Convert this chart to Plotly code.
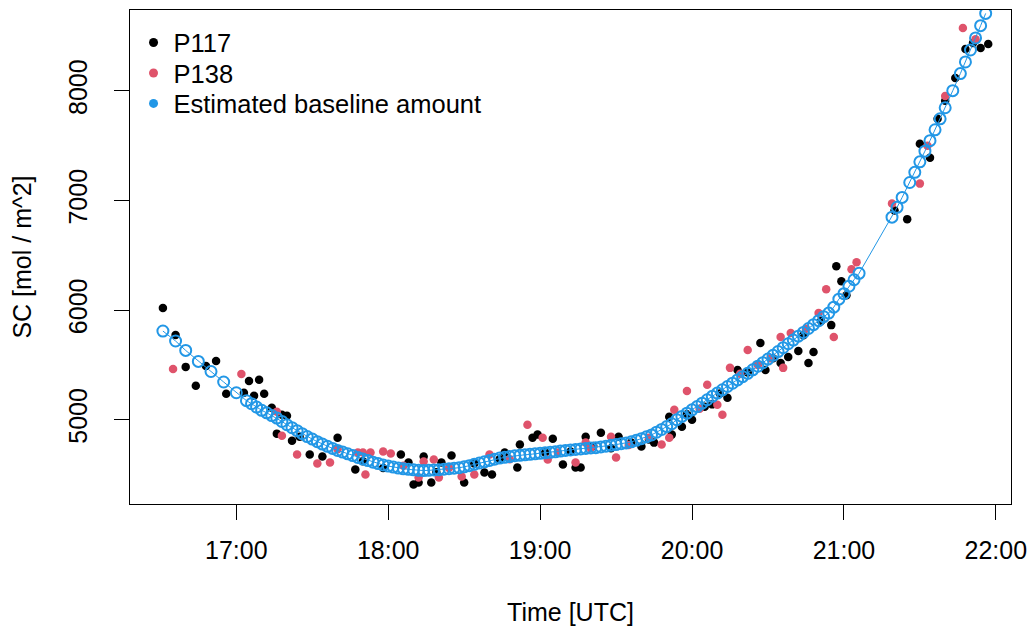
import plotly.graph_objects as go

# --- observations: P117 (time UTC, SC in mol/m^2) ---
p117_time = [
    "16:31", "16:36", "16:40", "16:44", "16:48", "16:52", "16:56", "17:03", "17:05", "17:07",
    "17:09", "17:11", "17:14", "17:16", "17:18", "17:20", "17:22", "17:25", "17:29", "17:34",
    "17:40", "17:47", "17:50", "17:58", "18:05", "18:08", "18:10", "18:12", "18:14", "18:17",
    "18:19", "18:21", "18:25", "18:30", "18:34", "18:38", "18:41", "18:44", "18:46", "18:51",
    "18:52", "18:57", "18:59", "19:02", "19:05", "19:09", "19:12", "19:14", "19:16", "19:18",
    "19:21", "19:24", "19:28", "19:31", "19:36", "19:40", "19:43", "19:45", "19:51", "19:52",
    "19:56", "19:58", "20:00", "20:05", "20:08", "20:11", "20:14", "20:18", "20:22", "20:27",
    "20:29", "20:32", "20:35", "20:38", "20:42", "20:44", "20:46", "20:48", "20:51", "20:55",
    "20:57", "20:59", "21:01", "21:20", "21:25", "21:30", "21:34", "21:37", "21:40", "21:44",
    "21:48", "21:51", "21:54", "21:57",
]
p117_sc = [
    6020, 5773, 5482, 5309, 5491, 5536, 5236, 5245, 5354, 5218,
    5364, 5236, 5109, 4873, 5045, 5036, 4809, 4845, 4682, 4664,
    4836, 4545, 4620, 4560, 4682, 4609, 4409, 4427, 4664, 4427,
    4520, 4609, 4673, 4427, 4600, 4518, 4500, 4640, 4700, 4563,
    4773, 4836, 4864, 4700, 4827, 4591, 4710, 4563, 4563, 4845,
    4760, 4882, 4740, 4845, 4791, 4755, 4820, 4791, 5027, 4864,
    4936, 5050, 5000, 5118, 5140, 5240, 5200, 5454, 5430, 5700,
    5454, 5560, 5518, 5573, 5627, 5770, 5518, 5618, 5900, 5863,
    6400, 6264, 6136, 6909, 6830, 7518, 7391, 7745, 7909, 8118,
    8382, 8436, 8391, 8427,
]

# --- observations: P138 ---
p138_time = [
    "16:35", "17:02", "17:16", "17:18", "17:24", "17:32", "17:37", "17:40", "17:48", "17:50",
    "17:51", "17:53", "17:58", "18:01", "18:06", "18:12", "18:14", "18:18", "18:20", "18:24",
    "18:29", "18:34", "18:40", "18:48", "18:55", "19:01", "19:03", "19:07", "19:14", "19:18",
    "19:20", "19:28", "19:30", "19:35", "19:43", "19:48", "19:51", "19:53", "19:58", "20:03",
    "20:06", "20:10", "20:12", "20:15", "20:19", "20:22", "20:26", "20:31", "20:35", "20:36",
    "20:39", "20:45", "20:50", "20:53", "20:56", "21:03", "21:05", "21:19", "21:30", "21:33",
    "21:40", "21:47", "21:52",
]
p138_sc = [
    5463, 5418, 5073, 4854, 4682, 4600, 4609, 4730, 4700, 4700,
    4500, 4700, 4709, 4691, 4580, 4473, 4618, 4636, 4473, 4560,
    4482, 4500, 4682, 4640, 4954, 4836, 4636, 4700, 4609, 4791,
    4740, 4845, 4655, 4770, 4836, 4773, 4836, 5091, 5263, 5100,
    5318, 5136, 5045, 5473, 5420, 5636, 5500, 5560, 5754, 5473,
    5791, 5830, 5973, 6191, 5754, 6373, 6436, 6973, 7154, 7500,
    7954, 8573, 8470,
]

# --- estimated baseline amount ---
base_time = [
    "16:31", "16:36", "16:40", "16:45", "16:50", "16:55", "17:00", "17:04",
    "17:06", "17:08", "17:10", "17:12", "17:14", "17:16", "17:18", "17:20", "17:22", "17:24",
    "17:26", "17:28", "17:30", "17:32", "17:34", "17:36", "17:38", "17:40", "17:42", "17:44",
    "17:46", "17:48", "17:50", "17:52", "17:54", "17:56", "17:58", "18:00", "18:02", "18:04",
    "18:06", "18:08", "18:10", "18:12", "18:14", "18:16", "18:18", "18:20", "18:22", "18:24",
    "18:26", "18:28", "18:30", "18:32", "18:34", "18:36", "18:38", "18:40", "18:42", "18:44",
    "18:46", "18:48", "18:50", "18:52", "18:54", "18:56", "18:58", "19:00", "19:02", "19:04",
    "19:06", "19:08", "19:10", "19:12", "19:14", "19:16", "19:18", "19:20", "19:22", "19:24",
    "19:26", "19:28", "19:30", "19:32", "19:34", "19:36", "19:38", "19:40", "19:42", "19:44",
    "19:46", "19:48", "19:50", "19:52", "19:54", "19:56", "19:58", "20:00", "20:02", "20:04",
    "20:06", "20:08", "20:10", "20:12", "20:14", "20:16", "20:18", "20:20", "20:22", "20:24",
    "20:26", "20:28", "20:30", "20:32", "20:34", "20:36", "20:38", "20:40", "20:42", "20:44",
    "20:46", "20:48", "20:50", "20:52", "20:54", "20:56", "20:58", "21:00", "21:02", "21:04",
    "21:06",
    "21:19", "21:21", "21:23", "21:26", "21:28", "21:30", "21:32", "21:34", "21:36", "21:38",
    "21:40", "21:43", "21:46", "21:48", "21:50", "21:52", "21:54", "21:56",
]
base_sc = [
    5809, 5718, 5632, 5532, 5440, 5344, 5246, 5174,
    5146, 5115, 5086, 5063, 5038, 5015, 4984, 4954, 4927, 4900,
    4873, 4846, 4823, 4800, 4778, 4757, 4738, 4720, 4705, 4689,
    4673, 4656, 4641, 4627, 4613, 4600, 4587, 4577, 4568, 4559,
    4552, 4547, 4543, 4538, 4536, 4538, 4541, 4544, 4548, 4553,
    4557, 4562, 4570, 4581, 4593, 4605, 4616, 4628, 4640, 4650,
    4657, 4664, 4671, 4675, 4680, 4684, 4689, 4693, 4698, 4702,
    4707, 4714, 4720, 4724, 4729, 4733, 4738, 4742, 4745, 4752,
    4759, 4766, 4773, 4781, 4788, 4798, 4812, 4827, 4844, 4861,
    4886, 4911, 4937, 4963, 5000, 5030, 5060, 5090, 5120, 5151,
    5182, 5213, 5243, 5273, 5303, 5333, 5363, 5393, 5423, 5455,
    5488, 5520, 5553, 5587, 5622, 5657, 5693, 5727, 5762, 5796,
    5832, 5867, 5904, 5940, 5973, 6027, 6100, 6150, 6218, 6277,
    6336,
    6848, 6938, 7028, 7164, 7257, 7353, 7450, 7546, 7645, 7745,
    7846, 8002, 8158, 8264, 8373, 8483, 8595, 8707,
]

tick_hours = [17, 18, 19, 20, 21, 22]
tick_labels = ["17:00", "18:00", "19:00", "20:00", "21:00", "22:00"]
y_ticks = [5000, 6000, 7000, 8000]


def to_hours(stamps):
    out = []
    for s in stamps:
        h, m = s.split(":")
        out.append(int(h) + int(m) / 60.0)
    return out


BLACK = "#000000"
RED = "#DF536B"
BLUE = "#2297E6"
FONT = "Liberation Sans, Arial, sans-serif"

fig = go.Figure()

fig.add_trace(go.Scatter(
    x=to_hours(p117_time), y=p117_sc, mode="markers",
    marker=dict(color=BLACK, size=8.5), showlegend=False, hoverinfo="skip",
))
fig.add_trace(go.Scatter(
    x=to_hours(p138_time), y=p138_sc, mode="markers",
    marker=dict(color=RED, size=8.5), showlegend=False, hoverinfo="skip",
))
fig.add_trace(go.Scatter(
    x=to_hours(base_time), y=base_sc, mode="lines+markers",
    line=dict(color=BLUE, width=1),
    marker=dict(symbol="circle-open", color=BLUE, size=11, line=dict(width=2, color=BLUE)),
    showlegend=False, hoverinfo="skip",
))

# one legend per entry so each row sits at its own height
legend_rows = [("P117", BLACK, "legend", 0.9333),
               ("P138", RED, "legend2", 0.8717),
               ("Estimated baseline amount", BLUE, "legend3", 0.8101)]
legend_layout = {}
for name, col, key, ypos in legend_rows:
    fig.add_trace(go.Scatter(
        x=[None], y=[None], mode="markers", name=name, legend=key,
        marker=dict(color=col, size=9),
    ))
    legend_layout[key] = dict(
        x=0.004, y=ypos, xanchor="left", yanchor="middle",
        bgcolor="rgba(0,0,0,0)", borderwidth=0,
        font=dict(family=FONT, size=25.5, color="black"),
    )

axis_common = dict(
    showline=True, mirror=True, linecolor="black", linewidth=1,
    showgrid=False, zeroline=False,
    ticks="outside", ticklen=15, tickwidth=1, tickcolor="black",
    tickfont=dict(family=FONT, size=25, color="black"),
)

fig.update_layout(
    width=1036, height=632,
    margin=dict(l=130, r=19, t=9, b=128),
    paper_bgcolor="white", plot_bgcolor="white",
    font=dict(family=FONT, size=25, color="black"),
    xaxis=dict(
        range=[16.30, 22.10], tickvals=tick_hours, ticktext=tick_labels,
        ticklabelstandoff=9,
        title=dict(text="Time [UTC]", font=dict(family=FONT, size=25), standoff=40),
        **axis_common,
    ),
    yaxis=dict(
        range=[4231, 8738], tickvals=y_ticks, tickangle=-90,
        ticklabelstandoff=17,
        title=dict(text="SC [mol / m^2]", font=dict(family=FONT, size=25), standoff=25),
        **axis_common,
    ),
    **legend_layout,
)

fig.write_html("out.html")
